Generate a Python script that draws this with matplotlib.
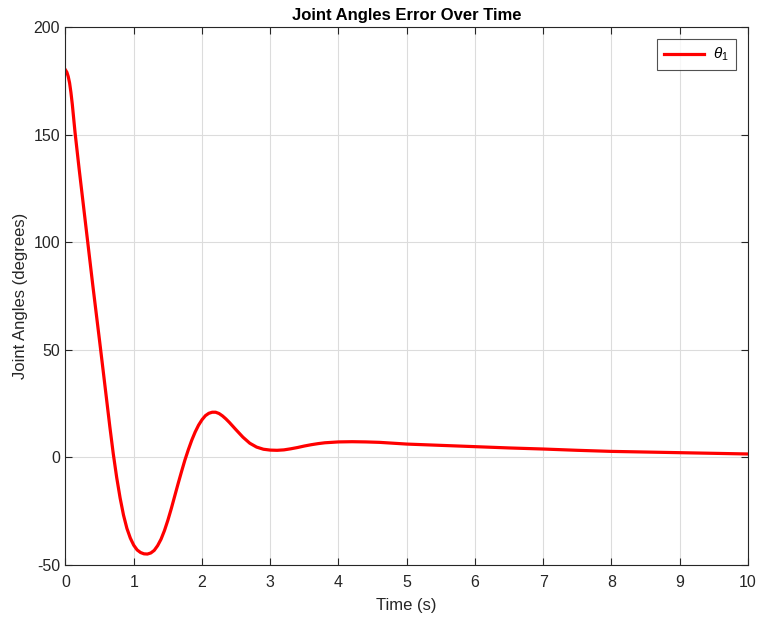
import matplotlib
matplotlib.use("Agg")
import matplotlib.pyplot as plt

plt.rcParams['font.family'] = ['Liberation Sans', 'DejaVu Sans']
plt.rcParams['mathtext.fontset'] = 'custom'
plt.rcParams['mathtext.it'] = 'Liberation Sans:italic'
plt.rcParams['mathtext.rm'] = 'Liberation Sans'
plt.rcParams['axes.unicode_minus'] = False

# values
time_s = [0.00, 0.02, 0.04, 0.06, 0.08, 0.10, 0.12, 0.14, 0.17, 0.20,
          0.25, 0.30, 0.35, 0.40, 0.45, 0.50, 0.55, 0.60, 0.65, 0.70,
          0.75, 0.80, 0.85, 0.90, 0.95, 1.00, 1.05, 1.10, 1.15, 1.20,
          1.25, 1.30, 1.35, 1.40, 1.45, 1.50, 1.55, 1.60, 1.65, 1.70,
          1.75, 1.80, 1.85, 1.90, 1.95, 2.00, 2.05, 2.10, 2.15, 2.20,
          2.25, 2.30, 2.35, 2.40, 2.50, 2.60, 2.70, 2.80, 2.90, 3.00,
          3.10, 3.20, 3.30, 3.40, 3.50, 3.60, 3.70, 3.80, 3.90, 4.00,
          4.20, 4.40, 4.60, 4.80, 5.00, 5.50, 6.00, 6.50, 7.00, 7.50,
          8.00, 8.50, 9.00, 9.50, 10.00]
theta1_err = [180.0, 179.0, 177.0, 174.0, 169.5, 164.0, 157.5, 151.0, 142.5, 134.0,
              120.5, 107.0, 93.5, 80.0, 67.0, 54.0, 40.8, 27.5, 14.2, 1.7,
              -9.3, -18.8, -26.8, -33.0, -37.5, -40.8, -43.0, -44.2, -44.8, -44.9,
              -44.4, -43.2, -41.0, -38.0, -34.0, -29.2, -23.8, -18.0, -12.2, -6.6,
              -1.2, 3.6, 8.0, 11.8, 15.0, 17.5, 19.4, 20.5, 21.0, 21.0,
              20.4, 19.3, 17.9, 16.3, 12.8, 9.4, 6.6, 4.8, 3.8, 3.4,
              3.3, 3.5, 4.0, 4.6, 5.3, 5.9, 6.4, 6.8, 7.0, 7.2,
              7.3, 7.2, 7.0, 6.6, 6.2, 5.6, 5.0, 4.4, 3.9, 3.3,
              2.8, 2.5, 2.2, 1.9, 1.6]

fig = plt.figure(figsize=(7.58, 6.19), dpi=100)
ax = fig.add_axes([0.0864, 0.0872, 0.9004, 0.8692])

ax.plot(time_s, theta1_err, color='red', linewidth=2.3, label=r'$\theta_1$',
        solid_joinstyle='round')

ax.set_xlim(0, 10)
ax.set_ylim(-50, 200)
ax.set_xticks(range(0, 11))
ax.set_yticks(range(-50, 201, 50))

ax.grid(True, color='#dcdcdc', linewidth=0.8)
ax.set_axisbelow(True)
for s in ax.spines.values():
    s.set_color('#262626')
    s.set_linewidth(0.8)
ax.tick_params(direction='in', top=True, right=True, length=5,
               colors='#262626', labelsize=11.5, width=0.8)
ax.tick_params(axis='x', pad=7)
ax.tick_params(axis='y', pad=4)

ax.set_xlabel('Time (s)', fontsize=12, color='#262626', labelpad=6)
ax.set_ylabel('Joint Angles (degrees)', fontsize=12, color='#262626', labelpad=4)
ax.set_title('Joint Angles Error Over Time', fontsize=12, fontweight='bold', pad=5)

leg = ax.legend(loc='upper right', fancybox=False, edgecolor='#262626',
                fontsize=11, borderaxespad=0.8, handlelength=2.6,
                borderpad=0.45, handletextpad=0.6)
leg.get_frame().set_linewidth(0.8)

plt.savefig('out.png', dpi=100)
